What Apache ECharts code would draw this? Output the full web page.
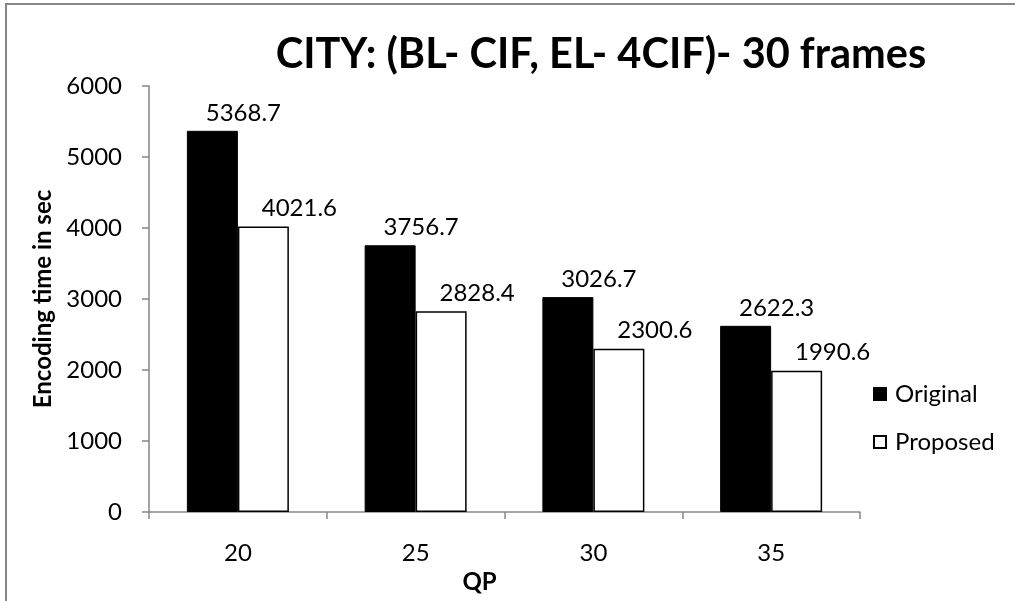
<!DOCTYPE html>
<html>
<head>
<meta charset="utf-8">
<title>CITY encoding time</title>
<script src="https://cdn.jsdelivr.net/npm/echarts@6/dist/echarts.min.js"></script>
<style>
  html, body { margin: 0; padding: 0; background: #ffffff; }
  #chart { width: 1015px; height: 601px; }
</style>
</head>
<body>
<div id="chart"></div>
<script>
// QP values on the x axis
const qpLevels = ['20', '25', '30', '35'];
// Encoding time in seconds for each QP
const originalTimes = [5368.7, 3756.7, 3026.7, 2622.3];
const proposedTimes = [4021.6, 2828.4, 2300.6, 1990.6];
const seriesNames = ['Original', 'Proposed'];

const FONT = 'Lato, "Open Sans", sans-serif';
const AXIS_GREY = '#868686';
const TEXT_SIZE = 24;

const chart = echarts.init(document.getElementById('chart'), null, { renderer: 'canvas' });

function valueLabel(dx) {
  return {
    show: true,
    position: 'top',
    distance: 6,
    offset: [dx, 0],
    color: '#000',
    fontFamily: FONT,
    fontSize: TEXT_SIZE,
    formatter: p => p.value.toFixed(1)
  };
}

chart.setOption({
  animation: false,
  backgroundColor: '#ffffff',
  title: {
    text: 'CITY: (BL- CIF, EL- 4CIF)- 30 frames',
    left: 596,
    textAlign: 'center',
    top: 29,
    textStyle: { fontFamily: FONT, fontWeight: 'bold', fontSize: 41.5, color: '#000' }
  },
  graphic: [{
    type: 'rect',
    shape: { x: 6, y: 4, width: 1030, height: 620 },
    style: { fill: 'none', stroke: '#878787', lineWidth: 2 },
    silent: true
  }],
  legend: {
    orient: 'vertical',
    left: 873,
    top: 382,
    padding: 0,
    itemWidth: 12,
    itemHeight: 12,
    itemGap: 24,
    icon: 'rect',
    data: seriesNames,
    textStyle: { fontFamily: FONT, fontSize: TEXT_SIZE, color: '#000', padding: [0, 0, 0, 4] }
  },
  grid: { left: 149, right: 155, top: 86, bottom: 89, containLabel: false },
  xAxis: {
    type: 'category',
    data: qpLevels,
    name: 'QP',
    nameLocation: 'middle',
    nameGap: 46,
    nameTextStyle: { fontFamily: FONT, fontWeight: 'bold', fontSize: TEXT_SIZE, color: '#000', padding: [0, 50, 0, 0] },
    axisLine: { lineStyle: { color: AXIS_GREY, width: 1.5 } },
    axisTick: { show: true, length: 7, lineStyle: { color: AXIS_GREY, width: 1.5 } },
    axisLabel: { margin: 29, fontFamily: FONT, fontSize: TEXT_SIZE, color: '#000' }
  },
  yAxis: {
    type: 'value',
    min: 0,
    max: 6000,
    interval: 1000,
    name: 'Encoding time in sec',
    nameLocation: 'middle',
    nameGap: 90,
    nameTextStyle: { fontFamily: FONT, fontWeight: 'bold', fontSize: TEXT_SIZE, color: '#000' },
    axisLine: { show: true, lineStyle: { color: AXIS_GREY, width: 1.5 } },
    axisTick: { show: true, length: 7, lineStyle: { color: AXIS_GREY, width: 1.5 } },
    splitLine: { show: false },
    axisLabel: { margin: 27, fontFamily: FONT, fontSize: TEXT_SIZE, color: '#000', formatter: v => String(v) }
  },
  series: [
    {
      name: seriesNames[0],
      type: 'bar',
      data: originalTimes,
      barWidth: 51,
      barGap: '0%',
      itemStyle: { color: '#000000', borderColor: '#000000', borderWidth: 1 },
      label: valueLabel(31)
    },
    {
      name: seriesNames[1],
      type: 'bar',
      data: proposedTimes,
      barWidth: 51,
      barGap: '0%',
      itemStyle: { color: '#ffffff', borderColor: '#000000', borderWidth: 1.5 },
      label: valueLabel(36)
    }
  ]
});
</script>
</body>
</html>
